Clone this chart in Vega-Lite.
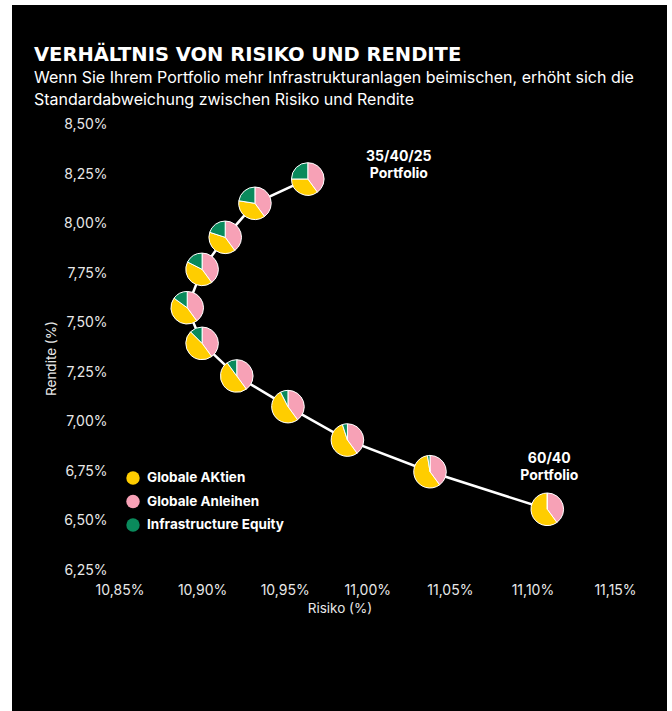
{
  "$schema": "https://vega.github.io/schema/vega-lite/v6.json",
  "width": 655,
  "height": 706,
  "autosize": {"type": "none"},
  "padding": {"left": 12, "top": 5, "right": 5, "bottom": 0},
  "background": "white",
  "config": {"view": {"fill": "black", "stroke": null}, "font": "Inter"},
  "title": {
    "text": "VERHÄLTNIS VON RISIKO UND RENDITE",
    "subtitle": ["Wenn Sie Ihrem Portfolio mehr Infrastrukturanlagen beimischen, erhöht sich die", "Standardabweichung zwischen Risiko und Rendite"],
    "anchor": "start",
    "frame": "group",
    "dx": 22,
    "offset": -104,
    "color": "white",
    "subtitleColor": "white",
    "font": "DejaVu Sans",
    "fontSize": 19.5,
    "fontWeight": "bold",
    "subtitleFont": "Inter",
    "subtitleFontSize": 16,
    "subtitleLineHeight": 22,
    "subtitlePadding": 5
  },
  "data": {
    "values": [
      {"id": "K", "risk": 11.109, "ret": 6.557, "Globale Anleihen": 40, "Globale AKtien": 60, "Infrastructure Equity": 0, "label": "60/40\nPortfolio"},
      {"id": "J", "risk": 11.038, "ret": 6.747, "Globale Anleihen": 40, "Globale AKtien": 57.5, "Infrastructure Equity": 2.5},
      {"id": "I", "risk": 10.988, "ret": 6.907, "Globale Anleihen": 40, "Globale AKtien": 55, "Infrastructure Equity": 5},
      {"id": "H", "risk": 10.952, "ret": 7.076, "Globale Anleihen": 40, "Globale AKtien": 52.5, "Infrastructure Equity": 7.5},
      {"id": "G", "risk": 10.921, "ret": 7.231, "Globale Anleihen": 40, "Globale AKtien": 50, "Infrastructure Equity": 10},
      {"id": "F", "risk": 10.900, "ret": 7.396, "Globale Anleihen": 40, "Globale AKtien": 47.5, "Infrastructure Equity": 12.5},
      {"id": "E", "risk": 10.891, "ret": 7.576, "Globale Anleihen": 40, "Globale AKtien": 45, "Infrastructure Equity": 15},
      {"id": "D", "risk": 10.900, "ret": 7.770, "Globale Anleihen": 40, "Globale AKtien": 42.5, "Infrastructure Equity": 17.5},
      {"id": "C", "risk": 10.914, "ret": 7.932, "Globale Anleihen": 40, "Globale AKtien": 40, "Infrastructure Equity": 20},
      {"id": "B", "risk": 10.932, "ret": 8.104, "Globale Anleihen": 40, "Globale AKtien": 37.5, "Infrastructure Equity": 22.5},
      {"id": "A", "risk": 10.964, "ret": 8.227, "Globale Anleihen": 40, "Globale AKtien": 35, "Infrastructure Equity": 25, "label": "35/40/25\nPortfolio"}
    ]
  },
  "encoding": {
    "x": {
      "field": "risk",
      "type": "quantitative",
      "scale": {"domain": [10.78492, 11.18148], "nice": false, "zero": false},
      "axis": {
        "title": "Risiko (%)",
        "values": [10.85, 10.9, 10.95, 11, 11.05, 11.1, 11.15],
        "labelExpr": "replace(format(datum.value, '.2f'), '.', ',') + '%'",
        "grid": false, "domain": false, "ticks": false,
        "offset": -130, "labelPadding": 2, "labelFlush": false,
        "labelColor": "#e8e8e8", "labelFontSize": 14, "labelFont": "Inter",
        "titleColor": "#e8e8e8", "titleFontSize": 13.5, "titleFontWeight": "normal", "titleFont": "Inter", "titlePadding": 4
      }
    },
    "y": {
      "field": "ret",
      "type": "quantitative",
      "scale": {"domain": [5.5371, 9.1067], "nice": false, "zero": false},
      "axis": {
        "title": "Rendite (%)",
        "values": [6.25, 6.5, 6.75, 7, 7.25, 7.5, 7.75, 8, 8.25, 8.5],
        "labelExpr": "replace(format(datum.value, '.2f'), '.', ',') + '%'",
        "grid": false, "domain": false, "ticks": false,
        "offset": -97, "labelPadding": 2, "labelFlush": false,
        "labelColor": "#e8e8e8", "labelFontSize": 14, "labelFont": "Inter",
        "titleColor": "#e8e8e8", "titleFontSize": 13.5, "titleFontWeight": "normal", "titleFont": "Inter", "titlePadding": 5
      }
    }
  },
  "layer": [
    {
      "mark": {"type": "line", "color": "white", "strokeWidth": 2.5},
      "encoding": {"order": {"field": "Infrastructure Equity", "type": "quantitative"}}
    },
    {
      "mark": {"type": "point", "shape": "circle", "filled": true, "color": "white", "opacity": 1, "size": 1030}
    },
    {
      "transform": [
        {"fold": ["Globale Anleihen", "Globale AKtien", "Infrastructure Equity"], "as": ["asset", "share"]},
        {"stack": "share", "groupby": ["id"], "offset": "normalize", "as": ["t0", "t1"]}
      ],
      "mark": {"type": "arc", "radius": 16.3, "stroke": "white", "strokeWidth": 1},
      "encoding": {
        "theta": {"field": "t0", "type": "quantitative", "scale": {"domain": [0, 1]}},
        "theta2": {"field": "t1"},
        "color": {
          "field": "asset",
          "type": "nominal",
          "scale": {"domain": ["Globale AKtien", "Globale Anleihen", "Infrastructure Equity"], "range": ["#FFCD00", "#F7A1B6", "#0A8A5C"]},
          "legend": {
            "orient": "none", "legendX": 114, "legendY": 466, "title": null,
            "symbolType": "circle", "symbolSize": 180, "symbolStrokeWidth": 0, "symbolOpacity": 1,
            "labelColor": "white", "labelFont": "Inter", "labelFontWeight": "bold", "labelFontSize": 13.5,
            "rowPadding": 9.5, "labelOffset": 7, "padding": 0
          }
        }
      }
    },
    {
      "transform": [{"filter": "datum.id === 'A'"}],
      "mark": {"type": "text", "lineBreak": "\n", "align": "center", "baseline": "alphabetic", "dx": 91, "dy": -18, "fontWeight": "bold", "fontSize": 14, "font": "Inter", "color": "white", "lineHeight": 17},
      "encoding": {"text": {"field": "label"}}
    },
    {
      "transform": [{"filter": "datum.id === 'K'"}],
      "mark": {"type": "text", "lineBreak": "\n", "align": "center", "baseline": "alphabetic", "dx": 2, "dy": -46, "fontWeight": "bold", "fontSize": 14, "font": "Inter", "color": "white", "lineHeight": 17},
      "encoding": {"text": {"field": "label"}}
    }
  ]
}
